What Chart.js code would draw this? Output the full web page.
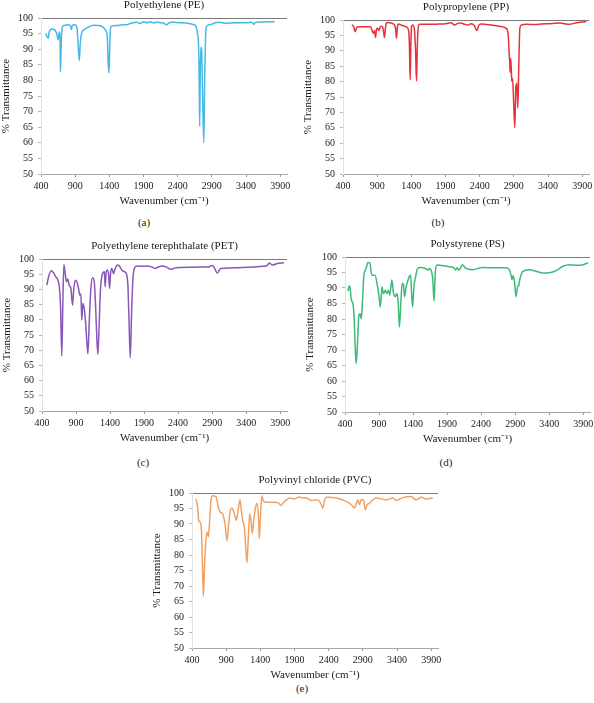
<!DOCTYPE html>
<html>
<head>
<meta charset="utf-8">
<script src="https://cdn.jsdelivr.net/npm/chart.js@4.4.1/dist/chart.umd.min.js"></script>
<style>
  body { margin: 0; width: 594px; height: 703px; background: #fff; position: relative; overflow: hidden; }
  .panel { position: absolute; }
  .tag { position: absolute; font: 11px "Liberation Serif", serif; color: #222; transform: translate(-50%, -50%); white-space: nowrap; }
</style>
</head>
<body>
<script>
// tick labels on the wavenumber axis
const xTickValues = [400, 900, 1400, 1900, 2400, 2900, 3400, 3900];

// Polyethylene (PE)
const peWavenumber = [466, 490, 505, 520, 560, 600, 630, 652, 668, 678, 685, 693, 705, 715, 740, 800, 835, 845, 858, 900,
  925, 942, 960, 975, 1000, 1050, 1100, 1170, 1230, 1290, 1340, 1370, 1383, 1393, 1403, 1415, 1430, 1500, 1600, 1650,
  1700, 1750, 1800, 1850, 1900, 1950, 2000, 2050, 2100, 2150, 2200, 2237, 2270, 2340, 2400, 2460, 2540, 2600, 2640, 2670,
  2690, 2705, 2714, 2722, 2730, 2740, 2750, 2762, 2783, 2795, 2808, 2822, 2880, 2950, 3000, 3100, 3200, 3300, 3400, 3480,
  3515, 3535, 3600, 3700, 3820];
const peTransmittance = [95, 94, 93.5, 95.5, 96.5, 96.2, 95, 93, 95.5, 94, 82.7, 90, 96, 97.2, 97.6, 97.8, 97.2, 96.3, 97.6, 97.8,
  97, 92, 86.4, 92, 95.5, 96.5, 97.2, 97.7, 97.6, 97.3, 96.3, 94, 86, 82.4, 88, 96, 97.4, 97.6, 97.8, 97.8,
  98.2, 98.5, 98.6, 98.3, 98.8, 98.5, 98.8, 98.4, 98.7, 98.5, 98.3, 97.8, 98.4, 98.7, 98.5, 98.5, 98.3, 98.1, 97.8, 97.2,
  95, 91.5, 82, 65.3, 82, 90.7, 90, 78, 60, 80, 94, 97.3, 97.9, 98.5, 98.6, 98.3, 98.4, 98.5, 98.5, 98.6,
  98, 98.6, 98.7, 98.8, 98.8];

// Polypropylene (PP)
const ppWavenumber = [529, 545, 558, 578, 600, 620, 700, 800, 820, 841, 860, 876, 890, 905, 924, 950, 978, 995, 1007, 1020,
  1032, 1056, 1105, 1154, 1170, 1183, 1195, 1210, 1251, 1324, 1358, 1372, 1383, 1393, 1402, 1422, 1446, 1462, 1476, 1486,
  1495, 1520, 1600, 1700, 1800, 1900, 1983, 2032, 2080, 2129, 2180, 2227, 2276, 2324, 2349, 2363, 2385, 2422, 2500, 2592,
  2700, 2788, 2818, 2828, 2840, 2847, 2856, 2866, 2872, 2882, 2895, 2914, 2929, 2944, 2958, 2973, 2988, 3012, 3081, 3227,
  3300, 3400, 3568, 3715, 3800, 3959];
const ppTransmittance = [98.4, 98.2, 97.8, 96.2, 97.5, 97.8, 97.8, 97.8, 97, 95.7, 96.5, 94.3, 97, 97.3, 96.6, 98, 97.8, 96, 94.3, 97,
  98.9, 99.2, 99, 98.4, 97, 94, 97.5, 98.7, 98.4, 97.8, 96.8, 92, 80.6, 92, 97.8, 98.4, 96.8, 90, 80.2, 90,
  95.7, 98.6, 98.6, 98.6, 98.7, 98.8, 99.1, 98.4, 98.9, 99, 98.6, 98.4, 98.8, 98.1, 96.8, 96.6, 98.2, 98.7, 98.5, 98.3,
  97.9, 97.3, 95.1, 90.8, 86, 83, 87.5, 82, 80, 81, 74.7, 65, 77.9, 79.5, 71.4, 85.4, 97.3, 98.4, 98.6, 98.5,
  98.7, 98.8, 99, 98.6, 99, 99.5];

// Polyethylene terephthalate (PET)
const petWavenumber = [471, 496, 535, 569, 603, 628, 657, 672, 691, 706, 721, 741, 760, 779, 800, 824, 849, 863, 888, 912,
  937, 956, 971, 985, 1000, 1021, 1040, 1059, 1074, 1094, 1118, 1143, 1168, 1187, 1206, 1221, 1241, 1260, 1290, 1315,
  1329, 1344, 1363, 1378, 1393, 1407, 1427, 1451, 1476, 1510, 1540, 1574, 1613, 1638, 1662, 1676, 1697, 1716, 1735, 1756,
  1794, 1870, 1947, 2000, 2065, 2094, 2162, 2241, 2290, 2350, 2437, 2550, 2650, 2731, 2850, 2903, 2926, 2976, 3025, 3100,
  3221, 3350, 3515, 3650, 3712, 3737, 3785, 3859, 3956];
const petTransmittance = [91.4, 94.1, 96.1, 95.5, 94.1, 93.4, 90.3, 84.8, 68.1, 84.8, 98.2, 95.2, 92.5, 93.4, 91.4, 90.3, 84.8, 89.2, 93, 92.5,
  90.3, 88.1, 88.5, 79.9, 85.4, 83.7, 79.3, 72.7, 68.8, 79.3, 90.3, 93.8, 92.5, 84.8, 73.8, 68.6, 79.3, 90.3, 95.2, 95.8,
  90.8, 96, 96.3, 95, 90.3, 95.2, 96.9, 95.2, 96.9, 98, 97.6, 96.3, 95.8, 95.2, 91.4, 82, 67.5, 82, 93, 96.9,
  97.7, 97.6, 97.7, 97.5, 96.9, 97.2, 97.7, 97.2, 96.6, 97, 97.2, 97.3, 97.3, 97.4, 97.4, 97.9, 97.4, 95.4, 96.9, 97,
  97.1, 97.2, 97.4, 97.6, 97.9, 98.7, 98, 98.5, 98.8];

// Polystyrene (PS)
const psWavenumber = [446, 461, 476, 490, 520, 535, 549, 564, 585, 604, 623, 638, 653, 678, 708, 737, 767, 792, 841, 875,
  904, 919, 944, 964, 993, 1014, 1038, 1058, 1088, 1112, 1137, 1162, 1181, 1200, 1221, 1240, 1260, 1275, 1295, 1319,
  1343, 1363, 1378, 1393, 1413, 1437, 1467, 1507, 1580, 1620, 1644, 1669, 1689, 1709, 1728, 1754, 1851, 1950, 2000, 2024,
  2049, 2073, 2100, 2123, 2172, 2271, 2419, 2616, 2764, 2813, 2838, 2853, 2872, 2893, 2912, 2937, 2952, 2971, 3011, 3109,
  3208, 3307, 3405, 3504, 3603, 3701, 3800, 3898, 3972];
const psTransmittance = [89, 90.7, 90, 86.6, 84.5, 80.1, 71.5, 65.6, 72.5, 81.2, 81.7, 80.1, 84, 94.2, 96.2, 98.2, 98, 94.2, 94.1, 90.9,
  86.6, 83.9, 90.4, 88.2, 89.3, 88.2, 89.3, 87.7, 92.6, 88.5, 87.2, 88.2, 85.5, 77.4, 85.5, 91.5, 91, 87.2, 90, 92,
  93.6, 94.2, 88.5, 83.9, 90.4, 93.6, 96.3, 96.6, 96.3, 95.8, 96.3, 95.5, 93, 85.8, 95.5, 97.4, 97.2, 96.8, 96.5, 95.8,
  96.5, 95.7, 96.5, 97.5, 96.4, 95.9, 96.6, 96.5, 96.5, 95.9, 94.3, 92.7, 94, 91.5, 87.2, 90.5, 90.8, 93, 95.3, 95.9,
  95.4, 94.8, 94.9, 95.6, 97, 97.5, 97.3, 97.5, 98.1];

// Polyvinyl chloride (PVC)
const pvcWavenumber = [458, 483, 498, 517, 537, 552, 567, 581, 600, 619, 640, 659, 678, 703, 751, 786, 815, 849, 882, 912,
  937, 961, 985, 1020, 1049, 1072, 1102, 1122, 1141, 1166, 1185, 1204, 1225, 1244, 1263, 1283, 1302, 1327, 1350, 1371,
  1385, 1404, 1423, 1448, 1507, 1605, 1663, 1701, 1751, 1828, 1897, 1975, 2018, 2072, 2146, 2219, 2267, 2292, 2316, 2340,
  2365, 2511, 2657, 2730, 2779, 2803, 2827, 2852, 2877, 2910, 2935, 2964, 2998, 3046, 3096, 3242, 3339, 3388, 3485, 3608,
  3681, 3754, 3827, 3924];
const pvcTransmittance = [98.1, 95.4, 91.2, 90.6, 88.5, 77.3, 66.7, 75.2, 83.7, 87.4, 85.9, 91.2, 97.6, 99.1, 98.8, 95.4, 93.8, 93.3, 90.1, 84.6,
  90.1, 94.4, 95.2, 93.3, 91.2, 93.8, 97.8, 94.4, 91.2, 89, 82.7, 77.6, 85.9, 93.3, 91.2, 86.9, 91.2, 94.9, 96.7, 93.3,
  85.3, 93.3, 99.1, 97.3, 97, 97, 96.8, 96, 97.2, 98.4, 98.1, 98.7, 98.4, 98.4, 97.6, 97.8, 97.3, 96.2, 95.2, 97.6,
  98.6, 98.4, 97.3, 96.3, 95.2, 96.5, 97.8, 96.2, 97.9, 97.8, 94.6, 96.2, 96.7, 97.8, 98.4, 97.8, 98.4, 97.6, 98.5, 98.9,
  97.8, 98.6, 98.1, 98.4];

const SERIF = '"Liberation Serif", "Times New Roman", serif';
const AXIS_W = 41;     // y axis block (labels + title)
const TITLE_H = 21;    // title block
const X_H = 34;        // x axis block (labels + title)
const RIGHT_PAD = 14;

// plot-area boxes of the five panels
const panels = [
  { tag: '(a)', tagX: 144, tagY: 222, left: 41, top: 18, w: 246, h: 156, title: 'Polyethylene (PE)', wn: peWavenumber, t: peTransmittance, color: '#45b8e6' },
  { tag: '(b)', tagX: 438, tagY: 222, left: 343, top: 20, w: 246, h: 154, title: 'Polypropylene (PP)', wn: ppWavenumber, t: ppTransmittance, color: '#e8313a' },
  { tag: '(c)', tagX: 143, tagY: 462, left: 42, top: 259, w: 245, h: 152, title: 'Polyethylene terephthalate (PET)', wn: petWavenumber, t: petTransmittance, color: '#8957b8' },
  { tag: '(d)', tagX: 446, tagY: 462, left: 345, top: 257, w: 245, h: 155, title: 'Polystyrene (PS)', wn: psWavenumber, t: psTransmittance, color: '#3dba7a' },
  { tag: '(e)', tagX: 302, tagY: 688, left: 192, top: 493, w: 246, h: 155, title: 'Polyvinyl chloride (PVC)', wn: pvcWavenumber, t: pvcTransmittance, color: '#f0a264' }
];

panels.forEach(p => {
  const wrap = document.createElement('div');
  wrap.className = 'panel';
  wrap.style.left = (p.left - AXIS_W) + 'px';
  wrap.style.top = (p.top - TITLE_H) + 'px';
  wrap.style.width = (AXIS_W + p.w + RIGHT_PAD) + 'px';
  wrap.style.height = (TITLE_H + p.h + X_H) + 'px';
  const canvas = document.createElement('canvas');
  wrap.appendChild(canvas);
  document.body.appendChild(wrap);

  const tag = document.createElement('div');
  tag.className = 'tag';
  tag.style.left = p.tagX + 'px';
  tag.style.top = p.tagY + 'px';
  tag.textContent = p.tag;
  document.body.appendChild(tag);

  new Chart(canvas, {
    type: 'scatter',
    data: {
      datasets: [{
        data: p.wn.map((x, i) => ({ x, y: p.t[i] })),
        showLine: true,
        borderColor: p.color,
        borderWidth: 1.5,
        pointRadius: 0,
        cubicInterpolationMode: 'monotone'
      }]
    },
    options: {
      responsive: true,
      maintainAspectRatio: false,
      animation: false,
      layout: { padding: { right: RIGHT_PAD } },
      plugins: {
        legend: { display: false },
        tooltip: { enabled: false },
        title: {
          display: true,
          text: p.title,
          fullSize: false,
          color: '#1a1a1a',
          font: { family: SERIF, size: 11, weight: 'normal', lineHeight: '13px' },
          padding: { top: 2, bottom: 6 }
        }
      },
      scales: {
        x: {
          type: 'linear',
          min: 400,
          max: 4000,
          afterBuildTicks: s => { s.ticks = xTickValues.map(v => ({ value: v })); },
          afterFit: s => { s.height = X_H; s.paddingLeft = 0; s.paddingRight = 0; },
          border: { color: '#a8a8a8' },
          grid: { drawOnChartArea: false, tickLength: 3, tickColor: '#999' },
          ticks: {
            color: '#222',
            padding: 3,
            maxRotation: 0,
            font: { family: SERIF, size: 10 },
            callback: v => String(v)
          },
          title: {
            display: true,
            text: 'Wavenumber (cm⁻¹)',
            color: '#1a1a1a',
            font: { family: SERIF, size: 11, lineHeight: '13px' },
            padding: 0
          }
        },
        y: {
          min: 50,
          max: 100,
          afterFit: s => { s.width = AXIS_W; s.paddingTop = 0; s.paddingBottom = 0; },
          border: { color: '#e2e2e2' },
          grid: {
            color: c => (c.tick && c.tick.value === 100 ? '#7a7a7a' : 'rgba(0,0,0,0)'),
            tickColor: '#b5b5b5',
            tickLength: 3
          },
          ticks: {
            stepSize: 5,
            color: '#222',
            padding: 5,
            font: { family: SERIF, size: 10 }
          },
          title: {
            display: true,
            text: '% Transmittance',
            color: '#1a1a1a',
            font: { family: SERIF, size: 11, lineHeight: '13px' },
            padding: 0
          }
        }
      }
    }
  });
});
</script>
</body>
</html>
